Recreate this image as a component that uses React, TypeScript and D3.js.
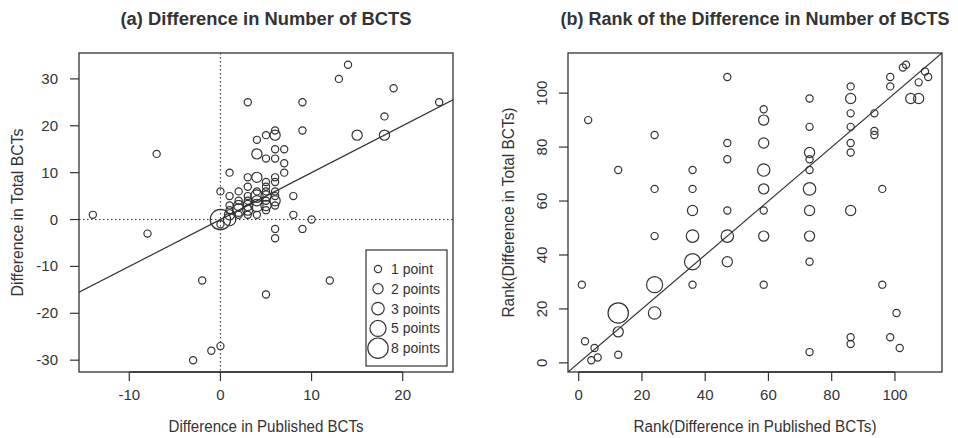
import React from 'react';
import * as d3 from 'd3';

// Panel (a): difference in published BCTs (x), difference in total BCTs (y), count of studies
const aPublished = [-14, -8, -7, -3, -2, -1, 0, 0, 1, 3, 9, 13, 14, 19, 24, 18, 15, 18, 9, 6, 6, 5, 4, 4, 5, 6, 7, 6, 7, 7, 3, 4, 6, 6, 5, 3, 2, 1, 8, 6, 8, 10, 6, 9, 6, 12, 5, 0, 0,
  1, 1, 1, 2, 2, 2, 2, 3, 3, 3, 3, 4, 4, 4, 4, 4, 5, 5, 5, 5, 5, 5, 6, 6, 6, 1, 3];
const aTotal = [1, -3, 14, -30, -13, -28, -27, 6, 10, 25, 25, 30, 33, 28, 25, 22, 18, 18, 19, 19, 18, 18, 17, 14, 13, 15, 15, 13, 12, 10, 9, 9, 9, 8, 8, 7, 6, 5, 5, 4, 1, 0, -2, -2, -4, -13, -16, 0, -1,
  0, 1, 2, 1, 2, 3, 4, 2, 3, 4, 5, 1, 3, 4, 5, 6, 2, 3, 4, 5, 6, 7, 3, 5, 6, 3, 1];
const aCount = [1, 1, 1, 1, 1, 1, 1, 1, 1, 1, 1, 1, 1, 1, 1, 1, 2, 2, 1, 1, 2, 1, 1, 2, 1, 1, 1, 1, 1, 1, 1, 2, 1, 1, 1, 1, 1, 1, 1, 2, 1, 1, 1, 1, 1, 1, 1, 8, 1,
  3, 2, 1, 1, 3, 2, 1, 2, 2, 1, 1, 1, 3, 2, 3, 1, 1, 2, 1, 2, 1, 1, 1, 1, 1, 1, 1];

// Panel (b): ranks
const bRankPublished = [1, 2, 3, 4, 5, 6, 12.5, 12.5, 12.5, 12.5, 24, 24, 24, 24, 24, 36, 36, 36, 36, 36, 36,
  47, 47, 47, 47, 47, 47, 58.5, 58.5, 58.5, 58.5, 58.5, 58.5, 58.5, 58.5,
  73, 73, 73, 73, 73, 73, 73, 73, 73, 73, 86, 86, 86, 86, 86, 86, 86, 86, 86,
  93.5, 93.5, 93.5, 96, 96, 98.5, 98.5, 98.5, 100.5, 101.5, 102.5, 103.5, 105, 107.5, 107.5, 109.5, 110.5];
const bRankTotal = [29, 8, 90, 1, 5.5, 2, 18.5, 11.5, 3, 71.5, 84.5, 64.5, 47, 29, 18.5, 71.5, 64.5, 56.5, 47, 37.5, 29,
  106, 81.5, 75.5, 56.5, 47, 37.5, 94, 90, 81.5, 71.5, 64.5, 56.5, 47, 29,
  98, 87.5, 78, 75.5, 71.5, 64.5, 56.5, 47, 37.5, 4, 102.5, 98, 92.5, 87.5, 81.5, 78, 56.5, 9.5, 7,
  92.5, 86, 84.5, 64.5, 29, 106, 102.5, 9.5, 18.5, 5.5, 109.5, 110.5, 98, 98, 104, 108, 106];
const bCount = [1, 1, 1, 1, 1, 1, 8, 2, 1, 1, 1, 1, 1, 5, 3, 1, 1, 2, 3, 5, 1,
  1, 1, 1, 1, 3, 2, 1, 2, 2, 3, 2, 1, 2, 1,
  1, 1, 2, 1, 1, 3, 2, 2, 1, 1, 1, 2, 1, 1, 1, 1, 2, 1, 1,
  1, 1, 1, 1, 1, 1, 1, 1, 1, 1, 1, 1, 2, 2, 1, 1, 1];

const aXTicks = [-10, 0, 10, 20];
const aYTicks = [-30, -20, -10, 0, 10, 20, 30];
const bTicks = [0, 20, 40, 60, 80, 100];
const legendCounts = [1, 2, 3, 5, 8];
const legendLabels = ['1 point', '2 points', '3 points', '5 points', '8 points'];

const FONT = '"Liberation Sans", Arial, Helvetica, sans-serif';
const INK = '#333333';
const TOP = 53;
const BOTTOM = 372;

const ext = (v: number[]) => {
  const [lo, hi] = d3.extent(v) as [number, number];
  const d = (hi - lo) * 0.04;
  return [lo - d, hi + d];
};
const rad = (n: number) => 3.6 * Math.sqrt(n);

type PanelProps = {
  id: string; left: number; right: number; xs: number[]; ys: number[]; ns: number[];
  xTicks: number[]; yTicks: number[]; title: string; titleLen: number; xLabel: string; xLabelLen: number;
  yLabel: string; yLabelLen: number; yLabelX: number; rotateYTicks: boolean; guides: boolean; legend: boolean;
};

function Panel(p: PanelProps) {
  const x = d3.scaleLinear().domain(ext(p.xs)).range([p.left, p.right]);
  const y = d3.scaleLinear().domain(ext(p.ys)).range([BOTTOM, TOP]);
  const [x0, x1] = x.domain();
  const cx = (p.left + p.right) / 2;
  const cy = (TOP + BOTTOM) / 2;
  const tickLen = 9;
  return (
    <g>
      <defs>
        <clipPath id={p.id}>
          <rect x={p.left} y={TOP} width={p.right - p.left} height={BOTTOM - TOP} />
        </clipPath>
      </defs>
      <text x={cx} y={25} textAnchor="middle" fontWeight="bold" fontSize={18} fill={INK}
        textLength={p.titleLen} lengthAdjust="spacingAndGlyphs">{p.title}</text>
      <g clipPath={`url(#${p.id})`}>
        {p.guides && (
          <g stroke={INK} strokeWidth={1} strokeDasharray="1.5,2.5">
            <line x1={p.left} x2={p.right} y1={y(0)} y2={y(0)} />
            <line x1={x(0)} x2={x(0)} y1={TOP} y2={BOTTOM} />
          </g>
        )}
        <line x1={x(x0)} y1={y(x0)} x2={x(x1)} y2={y(x1)} stroke={INK} strokeWidth={1.2} />
        {p.xs.map((v, i) => (
          <circle key={i} cx={x(v)} cy={y(p.ys[i])} r={rad(p.ns[i])} fill="none" stroke={INK} strokeWidth={1.2} />
        ))}
      </g>
      <rect x={p.left} y={TOP} width={p.right - p.left} height={BOTTOM - TOP} fill="none" stroke={INK} strokeWidth={1.3} />
      {/* x axis */}
      <line x1={x(p.xTicks[0])} x2={x(p.xTicks[p.xTicks.length - 1])} y1={BOTTOM} y2={BOTTOM} stroke={INK} strokeWidth={1.3} />
      {p.xTicks.map((t) => (
        <g key={t}>
          <line x1={x(t)} x2={x(t)} y1={BOTTOM} y2={BOTTOM + tickLen} stroke={INK} strokeWidth={1.2} />
          <text x={x(t)} y={400} textAnchor="middle" fontSize={15} fill={INK}>{t}</text>
        </g>
      ))}
      <text x={cx} y={432} textAnchor="middle" fontSize={16} fill={INK}
        textLength={p.xLabelLen} lengthAdjust="spacingAndGlyphs">{p.xLabel}</text>
      {/* y axis */}
      {p.yTicks.map((t) => (
        <g key={t}>
          <line x1={p.left - tickLen} x2={p.left} y1={y(t)} y2={y(t)} stroke={INK} strokeWidth={1.2} />
          {p.rotateYTicks ? (
            <text transform={`translate(${p.left - 21},${y(t)}) rotate(-90)`} textAnchor="middle" fontSize={15} fill={INK}>{t}</text>
          ) : (
            <text x={p.left - 21} y={y(t) + 5} textAnchor="end" fontSize={15} fill={INK}>{t}</text>
          )}
        </g>
      ))}
      <text transform={`translate(${p.yLabelX},${cy}) rotate(-90)`} textAnchor="middle" fontSize={16} fill={INK}
        textLength={p.yLabelLen} lengthAdjust="spacingAndGlyphs">{p.yLabel}</text>
      {p.legend && (
        <g>
          <rect x={366} y={250} width={81} height={116} fill="white" stroke={INK} strokeWidth={1.2} />
          {legendCounts.map((n, i) => (
            <g key={n}>
              <circle cx={378} cy={269 + i * 19.8} r={rad(n)} fill="none" stroke={INK} strokeWidth={1.2} />
              <text x={391} y={269 + i * 19.8 + 5} fontSize={14} fill={INK}>{legendLabels[i]}</text>
            </g>
          ))}
        </g>
      )}
    </g>
  );
}

export default function App() {
  return (
    <svg width={958} height={438} style={{ position: 'absolute', left: 0, top: 0, background: 'white', fontFamily: FONT }}>
      <rect width={958} height={438} fill="white" />
      <Panel id="clipA" left={79} right={453} xs={aPublished} ys={aTotal} ns={aCount}
        xTicks={aXTicks} yTicks={aYTicks} title="(a) Difference in Number of BCTS" titleLen={291}
        xLabel="Difference in Published BCTs" xLabelLen={195}
        yLabel="Difference in Total BCTs" yLabelLen={168} yLabelX={23} rotateYTicks={false} guides={true} legend={true} />
      <Panel id="clipB" left={568} right={942} xs={bRankPublished} ys={bRankTotal} ns={bCount}
        xTicks={bTicks} yTicks={bTicks} title="(b) Rank of the Difference in Number of BCTS" titleLen={389}
        xLabel="Rank(Difference in Published BCTs)" xLabelLen={243}
        yLabel="Rank(Difference in Total BCTs)" yLabelLen={210} yLabelX={514} rotateYTicks={true} guides={false} legend={false} />
    </svg>
  );
}
